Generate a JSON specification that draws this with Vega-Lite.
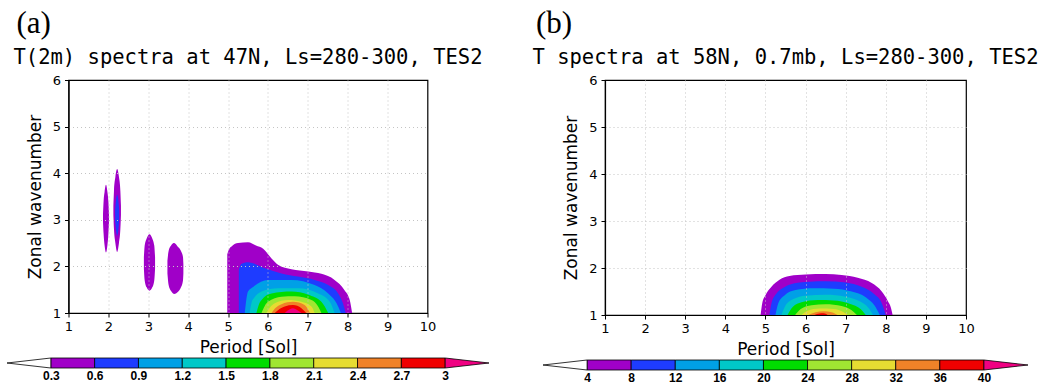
{
  "$schema": "https://vega.github.io/schema/vega-lite/v6.json",
  "background": "white",
  "padding": {"left": 5, "top": 7, "right": 0, "bottom": 0},
  "config": {
    "font": "DejaVu Sans",
    "view": {"stroke": "#000", "strokeWidth": 1.2},
    "title": {"color": "#000", "fontWeight": "normal"},
    "axis": {
      "labelFont": "DejaVu Sans", "labelFontSize": 13, "labelColor": "#000",
      "titleFont": "DejaVu Sans", "titleFontSize": 17, "titleFontWeight": "normal", "titleColor": "#000",
      "tickColor": "#000", "domainColor": "#000", "tickSize": 4, "domainWidth": 1.2,
      "gridColor": "#c4c4c4", "gridDash": [1, 3], "gridWidth": 1,
      "labelFlush": false, "labelOverlap": false, "labelBound": false
    },
    "axisX": {"gridOpacity": {"condition": {"test": "datum.value <= 1 || datum.value >= 10", "value": 0}, "value": 1}},
    "axisY": {"gridOpacity": {"condition": {"test": "datum.value <= 1 || datum.value >= 6", "value": 0}, "value": 1}}
  },
  "resolve": {"scale": {"color": "independent"}},
  "spacing": 40,
  "datasets": {
    "isoA": [
      {"shape": "p1", "level": 0.3, "x": 1.865, "lo": 2.95, "hi": 3.12},
      {"shape": "p1", "level": 0.3, "x": 1.88, "lo": 2.7, "hi": 3.4},
      {"shape": "p1", "level": 0.3, "x": 1.905, "lo": 2.45, "hi": 3.6},
      {"shape": "p1", "level": 0.3, "x": 1.94, "lo": 2.3, "hi": 3.75},
      {"shape": "p1", "level": 0.3, "x": 1.975, "lo": 2.45, "hi": 3.6},
      {"shape": "p1", "level": 0.3, "x": 2.0, "lo": 2.7, "hi": 3.4},
      {"shape": "p1", "level": 0.3, "x": 2.015, "lo": 2.95, "hi": 3.12},

      {"shape": "p2", "level": 0.3, "x": 2.125, "lo": 3.1, "hi": 3.3},
      {"shape": "p2", "level": 0.3, "x": 2.14, "lo": 2.8, "hi": 3.62},
      {"shape": "p2", "level": 0.3, "x": 2.175, "lo": 2.5, "hi": 3.92},
      {"shape": "p2", "level": 0.3, "x": 2.22, "lo": 2.31, "hi": 4.09},
      {"shape": "p2", "level": 0.3, "x": 2.265, "lo": 2.5, "hi": 3.92},
      {"shape": "p2", "level": 0.3, "x": 2.3, "lo": 2.8, "hi": 3.62},
      {"shape": "p2", "level": 0.3, "x": 2.315, "lo": 3.1, "hi": 3.3},

      {"shape": "p3", "level": 0.3, "x": 2.89, "lo": 1.95, "hi": 2.2},
      {"shape": "p3", "level": 0.3, "x": 2.91, "lo": 1.7, "hi": 2.45},
      {"shape": "p3", "level": 0.3, "x": 2.96, "lo": 1.55, "hi": 2.6},
      {"shape": "p3", "level": 0.3, "x": 3.03, "lo": 1.48, "hi": 2.69},
      {"shape": "p3", "level": 0.3, "x": 3.1, "lo": 1.55, "hi": 2.6},
      {"shape": "p3", "level": 0.3, "x": 3.15, "lo": 1.7, "hi": 2.45},
      {"shape": "p3", "level": 0.3, "x": 3.17, "lo": 1.95, "hi": 2.2},

      {"shape": "p4", "level": 0.3, "x": 3.48, "lo": 1.85, "hi": 2.12},
      {"shape": "p4", "level": 0.3, "x": 3.51, "lo": 1.6, "hi": 2.33},
      {"shape": "p4", "level": 0.3, "x": 3.58, "lo": 1.46, "hi": 2.46},
      {"shape": "p4", "level": 0.3, "x": 3.65, "lo": 1.41, "hi": 2.5},
      {"shape": "p4", "level": 0.3, "x": 3.74, "lo": 1.45, "hi": 2.42},
      {"shape": "p4", "level": 0.3, "x": 3.82, "lo": 1.55, "hi": 2.33},
      {"shape": "p4", "level": 0.3, "x": 3.87, "lo": 1.7, "hi": 2.2},
      {"shape": "p4", "level": 0.3, "x": 3.88, "lo": 1.85, "hi": 2.05},

      {"shape": "p5", "level": 0.3, "x": 4.98, "lo": 1, "hi": 2.26},
      {"shape": "p5", "level": 0.3, "x": 5.02, "lo": 1, "hi": 2.36},
      {"shape": "p5", "level": 0.3, "x": 5.1, "lo": 1, "hi": 2.44},
      {"shape": "p5", "level": 0.3, "x": 5.25, "lo": 1, "hi": 2.5},
      {"shape": "p5", "level": 0.3, "x": 5.5, "lo": 1, "hi": 2.52},
      {"shape": "p5", "level": 0.3, "x": 5.7, "lo": 1, "hi": 2.45},
      {"shape": "p5", "level": 0.3, "x": 5.88, "lo": 1, "hi": 2.38},
      {"shape": "p5", "level": 0.3, "x": 6.09, "lo": 1, "hi": 2.17},
      {"shape": "p5", "level": 0.3, "x": 6.26, "lo": 1, "hi": 2.03},
      {"shape": "p5", "level": 0.3, "x": 6.59, "lo": 1, "hi": 1.94},
      {"shape": "p5", "level": 0.3, "x": 7.01, "lo": 1, "hi": 1.89},
      {"shape": "p5", "level": 0.3, "x": 7.34, "lo": 1, "hi": 1.84},
      {"shape": "p5", "level": 0.3, "x": 7.67, "lo": 1, "hi": 1.71},
      {"shape": "p5", "level": 0.3, "x": 7.92, "lo": 1, "hi": 1.49},
      {"shape": "p5", "level": 0.3, "x": 8.05, "lo": 1, "hi": 1.28},
      {"shape": "p5", "level": 0.3, "x": 8.11, "lo": 1, "hi": 1.0},

      {"shape": "b1", "level": 0.6, "x": 2.17, "lo": 2.98, "hi": 3.22},
      {"shape": "b1", "level": 0.6, "x": 2.19, "lo": 2.78, "hi": 3.42},
      {"shape": "b1", "level": 0.6, "x": 2.22, "lo": 2.66, "hi": 3.54},
      {"shape": "b1", "level": 0.6, "x": 2.25, "lo": 2.78, "hi": 3.42},
      {"shape": "b1", "level": 0.6, "x": 2.27, "lo": 2.98, "hi": 3.22},

      {"shape": "b2", "level": 0.6, "x": 5.27, "lo": 1, "hi": 1.92},
      {"shape": "b2", "level": 0.6, "x": 5.33, "lo": 1, "hi": 2.05},
      {"shape": "b2", "level": 0.6, "x": 5.5, "lo": 1, "hi": 2.09},
      {"shape": "b2", "level": 0.6, "x": 5.92, "lo": 1, "hi": 1.96},
      {"shape": "b2", "level": 0.6, "x": 6.34, "lo": 1, "hi": 1.85},
      {"shape": "b2", "level": 0.6, "x": 7.17, "lo": 1, "hi": 1.71},
      {"shape": "b2", "level": 0.6, "x": 7.51, "lo": 1, "hi": 1.6},
      {"shape": "b2", "level": 0.6, "x": 7.76, "lo": 1, "hi": 1.42},
      {"shape": "b2", "level": 0.6, "x": 7.88, "lo": 1, "hi": 1.21},
      {"shape": "b2", "level": 0.6, "x": 7.95, "lo": 1, "hi": 1.0},

      {"shape": "c1", "level": 0.9, "x": 5.42, "lo": 1, "hi": 1.0},
      {"shape": "c1", "level": 0.9, "x": 5.46, "lo": 1, "hi": 1.3},
      {"shape": "c1", "level": 0.9, "x": 5.5, "lo": 1, "hi": 1.46},
      {"shape": "c1", "level": 0.9, "x": 5.63, "lo": 1, "hi": 1.56},
      {"shape": "c1", "level": 0.9, "x": 6.0, "lo": 1, "hi": 1.71},
      {"shape": "c1", "level": 0.9, "x": 6.59, "lo": 1, "hi": 1.71},
      {"shape": "c1", "level": 0.9, "x": 7.17, "lo": 1, "hi": 1.6},
      {"shape": "c1", "level": 0.9, "x": 7.51, "lo": 1, "hi": 1.42},
      {"shape": "c1", "level": 0.9, "x": 7.72, "lo": 1, "hi": 1.21},
      {"shape": "c1", "level": 0.9, "x": 7.83, "lo": 1, "hi": 1.0},

      {"shape": "d1", "level": 1.2, "x": 5.54, "lo": 1, "hi": 1.0},
      {"shape": "d1", "level": 1.2, "x": 5.6, "lo": 1, "hi": 1.25},
      {"shape": "d1", "level": 1.2, "x": 5.65, "lo": 1, "hi": 1.32},
      {"shape": "d1", "level": 1.2, "x": 5.84, "lo": 1, "hi": 1.46},
      {"shape": "d1", "level": 1.2, "x": 6.26, "lo": 1, "hi": 1.53},
      {"shape": "d1", "level": 1.2, "x": 6.76, "lo": 1, "hi": 1.53},
      {"shape": "d1", "level": 1.2, "x": 7.26, "lo": 1, "hi": 1.42},
      {"shape": "d1", "level": 1.2, "x": 7.55, "lo": 1, "hi": 1.24},
      {"shape": "d1", "level": 1.2, "x": 7.67, "lo": 1, "hi": 1.0},

      {"shape": "e1", "level": 1.5, "x": 5.71, "lo": 1, "hi": 1.0},
      {"shape": "e1", "level": 1.5, "x": 5.78, "lo": 1, "hi": 1.2},
      {"shape": "e1", "level": 1.5, "x": 5.84, "lo": 1, "hi": 1.28},
      {"shape": "e1", "level": 1.5, "x": 6.09, "lo": 1, "hi": 1.42},
      {"shape": "e1", "level": 1.5, "x": 6.59, "lo": 1, "hi": 1.46},
      {"shape": "e1", "level": 1.5, "x": 7.01, "lo": 1, "hi": 1.39},
      {"shape": "e1", "level": 1.5, "x": 7.34, "lo": 1, "hi": 1.24},
      {"shape": "e1", "level": 1.5, "x": 7.51, "lo": 1, "hi": 1.0},

      {"shape": "f1", "level": 1.8, "x": 5.84, "lo": 1, "hi": 1.0},
      {"shape": "f1", "level": 1.8, "x": 5.92, "lo": 1, "hi": 1.15},
      {"shape": "f1", "level": 1.8, "x": 6.0, "lo": 1, "hi": 1.24},
      {"shape": "f1", "level": 1.8, "x": 6.34, "lo": 1, "hi": 1.35},
      {"shape": "f1", "level": 1.8, "x": 6.67, "lo": 1, "hi": 1.36},
      {"shape": "f1", "level": 1.8, "x": 7.09, "lo": 1, "hi": 1.28},
      {"shape": "f1", "level": 1.8, "x": 7.25, "lo": 1, "hi": 1.15},
      {"shape": "f1", "level": 1.8, "x": 7.34, "lo": 1, "hi": 1.0},

      {"shape": "g1", "level": 2.1, "x": 5.96, "lo": 1, "hi": 1.0},
      {"shape": "g1", "level": 2.1, "x": 6.05, "lo": 1, "hi": 1.12},
      {"shape": "g1", "level": 2.1, "x": 6.17, "lo": 1, "hi": 1.21},
      {"shape": "g1", "level": 2.1, "x": 6.51, "lo": 1, "hi": 1.28},
      {"shape": "g1", "level": 2.1, "x": 6.84, "lo": 1, "hi": 1.24},
      {"shape": "g1", "level": 2.1, "x": 7.09, "lo": 1, "hi": 1.14},
      {"shape": "g1", "level": 2.1, "x": 7.17, "lo": 1, "hi": 1.0},

      {"shape": "h1", "level": 2.4, "x": 6.09, "lo": 1, "hi": 1.0},
      {"shape": "h1", "level": 2.4, "x": 6.18, "lo": 1, "hi": 1.1},
      {"shape": "h1", "level": 2.4, "x": 6.34, "lo": 1, "hi": 1.19},
      {"shape": "h1", "level": 2.4, "x": 6.63, "lo": 1, "hi": 1.24},
      {"shape": "h1", "level": 2.4, "x": 6.92, "lo": 1, "hi": 1.17},
      {"shape": "h1", "level": 2.4, "x": 7.05, "lo": 1, "hi": 1.0},

      {"shape": "i1", "level": 2.7, "x": 6.17, "lo": 1, "hi": 1.0},
      {"shape": "i1", "level": 2.7, "x": 6.3, "lo": 1, "hi": 1.09},
      {"shape": "i1", "level": 2.7, "x": 6.42, "lo": 1, "hi": 1.14},
      {"shape": "i1", "level": 2.7, "x": 6.63, "lo": 1, "hi": 1.17},
      {"shape": "i1", "level": 2.7, "x": 6.84, "lo": 1, "hi": 1.1},
      {"shape": "i1", "level": 2.7, "x": 6.96, "lo": 1, "hi": 1.0},

      {"shape": "j1", "level": 3.0, "x": 6.42, "lo": 1, "hi": 1.0},
      {"shape": "j1", "level": 3.0, "x": 6.55, "lo": 1, "hi": 1.08},
      {"shape": "j1", "level": 3.0, "x": 6.63, "lo": 1, "hi": 1.1},
      {"shape": "j1", "level": 3.0, "x": 6.72, "lo": 1, "hi": 1.07},
      {"shape": "j1", "level": 3.0, "x": 6.84, "lo": 1, "hi": 1.0}
    ],
    "isoB": [
      {"shape": "p1", "level": 4, "x": 4.88, "lo": 1, "hi": 1.0},
      {"shape": "p1", "level": 4, "x": 4.92, "lo": 1, "hi": 1.25},
      {"shape": "p1", "level": 4, "x": 5.0, "lo": 1, "hi": 1.42},
      {"shape": "p1", "level": 4, "x": 5.15, "lo": 1, "hi": 1.6},
      {"shape": "p1", "level": 4, "x": 5.35, "lo": 1, "hi": 1.75},
      {"shape": "p1", "level": 4, "x": 5.6, "lo": 1, "hi": 1.83},
      {"shape": "p1", "level": 4, "x": 6.0, "lo": 1, "hi": 1.86},
      {"shape": "p1", "level": 4, "x": 6.5, "lo": 1, "hi": 1.87},
      {"shape": "p1", "level": 4, "x": 6.9, "lo": 1, "hi": 1.85},
      {"shape": "p1", "level": 4, "x": 7.3, "lo": 1, "hi": 1.79},
      {"shape": "p1", "level": 4, "x": 7.65, "lo": 1, "hi": 1.68},
      {"shape": "p1", "level": 4, "x": 7.9, "lo": 1, "hi": 1.5},
      {"shape": "p1", "level": 4, "x": 8.05, "lo": 1, "hi": 1.3},
      {"shape": "p1", "level": 4, "x": 8.13, "lo": 1, "hi": 1.15},
      {"shape": "p1", "level": 4, "x": 8.17, "lo": 1, "hi": 1.0},

      {"shape": "b1", "level": 8, "x": 5.1, "lo": 1, "hi": 1.0},
      {"shape": "b1", "level": 8, "x": 5.15, "lo": 1, "hi": 1.25},
      {"shape": "b1", "level": 8, "x": 5.27, "lo": 1, "hi": 1.45},
      {"shape": "b1", "level": 8, "x": 5.45, "lo": 1, "hi": 1.58},
      {"shape": "b1", "level": 8, "x": 5.7, "lo": 1, "hi": 1.67},
      {"shape": "b1", "level": 8, "x": 6.1, "lo": 1, "hi": 1.71},
      {"shape": "b1", "level": 8, "x": 6.5, "lo": 1, "hi": 1.72},
      {"shape": "b1", "level": 8, "x": 7.0, "lo": 1, "hi": 1.69},
      {"shape": "b1", "level": 8, "x": 7.4, "lo": 1, "hi": 1.6},
      {"shape": "b1", "level": 8, "x": 7.7, "lo": 1, "hi": 1.45},
      {"shape": "b1", "level": 8, "x": 7.9, "lo": 1, "hi": 1.25},
      {"shape": "b1", "level": 8, "x": 8.0, "lo": 1, "hi": 1.0},

      {"shape": "c1", "level": 12, "x": 5.25, "lo": 1, "hi": 1.0},
      {"shape": "c1", "level": 12, "x": 5.32, "lo": 1, "hi": 1.25},
      {"shape": "c1", "level": 12, "x": 5.48, "lo": 1, "hi": 1.42},
      {"shape": "c1", "level": 12, "x": 5.75, "lo": 1, "hi": 1.53},
      {"shape": "c1", "level": 12, "x": 6.2, "lo": 1, "hi": 1.57},
      {"shape": "c1", "level": 12, "x": 6.7, "lo": 1, "hi": 1.56},
      {"shape": "c1", "level": 12, "x": 7.15, "lo": 1, "hi": 1.5},
      {"shape": "c1", "level": 12, "x": 7.5, "lo": 1, "hi": 1.38},
      {"shape": "c1", "level": 12, "x": 7.72, "lo": 1, "hi": 1.2},
      {"shape": "c1", "level": 12, "x": 7.85, "lo": 1, "hi": 1.0},

      {"shape": "d1", "level": 16, "x": 5.4, "lo": 1, "hi": 1.0},
      {"shape": "d1", "level": 16, "x": 5.5, "lo": 1, "hi": 1.2},
      {"shape": "d1", "level": 16, "x": 5.7, "lo": 1, "hi": 1.34},
      {"shape": "d1", "level": 16, "x": 6.0, "lo": 1, "hi": 1.41},
      {"shape": "d1", "level": 16, "x": 6.5, "lo": 1, "hi": 1.43},
      {"shape": "d1", "level": 16, "x": 7.0, "lo": 1, "hi": 1.39},
      {"shape": "d1", "level": 16, "x": 7.35, "lo": 1, "hi": 1.29},
      {"shape": "d1", "level": 16, "x": 7.58, "lo": 1, "hi": 1.14},
      {"shape": "d1", "level": 16, "x": 7.68, "lo": 1, "hi": 1.0},

      {"shape": "e1", "level": 20, "x": 5.55, "lo": 1, "hi": 1.0},
      {"shape": "e1", "level": 20, "x": 5.68, "lo": 1, "hi": 1.17},
      {"shape": "e1", "level": 20, "x": 5.9, "lo": 1, "hi": 1.27},
      {"shape": "e1", "level": 20, "x": 6.3, "lo": 1, "hi": 1.32},
      {"shape": "e1", "level": 20, "x": 6.7, "lo": 1, "hi": 1.31},
      {"shape": "e1", "level": 20, "x": 7.1, "lo": 1, "hi": 1.24},
      {"shape": "e1", "level": 20, "x": 7.38, "lo": 1, "hi": 1.12},
      {"shape": "e1", "level": 20, "x": 7.5, "lo": 1, "hi": 1.0},

      {"shape": "f1", "level": 24, "x": 5.74, "lo": 1, "hi": 1.0},
      {"shape": "f1", "level": 24, "x": 5.88, "lo": 1, "hi": 1.13},
      {"shape": "f1", "level": 24, "x": 6.15, "lo": 1, "hi": 1.21},
      {"shape": "f1", "level": 24, "x": 6.5, "lo": 1, "hi": 1.23},
      {"shape": "f1", "level": 24, "x": 6.9, "lo": 1, "hi": 1.19},
      {"shape": "f1", "level": 24, "x": 7.15, "lo": 1, "hi": 1.1},
      {"shape": "f1", "level": 24, "x": 7.28, "lo": 1, "hi": 1.0},

      {"shape": "g1", "level": 28, "x": 5.9, "lo": 1, "hi": 1.0},
      {"shape": "g1", "level": 28, "x": 6.05, "lo": 1, "hi": 1.09},
      {"shape": "g1", "level": 28, "x": 6.35, "lo": 1, "hi": 1.14},
      {"shape": "g1", "level": 28, "x": 6.7, "lo": 1, "hi": 1.13},
      {"shape": "g1", "level": 28, "x": 6.95, "lo": 1, "hi": 1.06},
      {"shape": "g1", "level": 28, "x": 7.05, "lo": 1, "hi": 1.0},

      {"shape": "h1", "level": 32, "x": 6.07, "lo": 1, "hi": 1.0},
      {"shape": "h1", "level": 32, "x": 6.25, "lo": 1, "hi": 1.06},
      {"shape": "h1", "level": 32, "x": 6.45, "lo": 1, "hi": 1.08},
      {"shape": "h1", "level": 32, "x": 6.65, "lo": 1, "hi": 1.06},
      {"shape": "h1", "level": 32, "x": 6.8, "lo": 1, "hi": 1.0},

      {"shape": "i1", "level": 36, "x": 6.22, "lo": 1, "hi": 1.0},
      {"shape": "i1", "level": 36, "x": 6.35, "lo": 1, "hi": 1.03},
      {"shape": "i1", "level": 36, "x": 6.45, "lo": 1, "hi": 1.035},
      {"shape": "i1", "level": 36, "x": 6.55, "lo": 1, "hi": 1.0}
    ],
    "barA": [
      {"lo": 0.3, "hi": 0.6}, {"lo": 0.6, "hi": 0.9}, {"lo": 0.9, "hi": 1.2},
      {"lo": 1.2, "hi": 1.5}, {"lo": 1.5, "hi": 1.8}, {"lo": 1.8, "hi": 2.1},
      {"lo": 2.1, "hi": 2.4}, {"lo": 2.4, "hi": 2.7}, {"lo": 2.7, "hi": 3.0}
    ],
    "capA": [
      {"end": "low", "x": 0, "lo": 0.5, "hi": 0.5, "level": 0},
      {"end": "low", "x": 0.3, "lo": 0, "hi": 1, "level": 0},
      {"end": "high", "x": 3.0, "lo": 0, "hi": 1, "level": 3.0},
      {"end": "high", "x": 3.3, "lo": 0.5, "hi": 0.5, "level": 3.0}
    ],
    "barB": [
      {"lo": 4, "hi": 8}, {"lo": 8, "hi": 12}, {"lo": 12, "hi": 16},
      {"lo": 16, "hi": 20}, {"lo": 20, "hi": 24}, {"lo": 24, "hi": 28},
      {"lo": 28, "hi": 32}, {"lo": 32, "hi": 36}, {"lo": 36, "hi": 40}
    ],
    "capB": [
      {"end": "low", "x": 0, "lo": 0.5, "hi": 0.5, "level": 0},
      {"end": "low", "x": 4, "lo": 0, "hi": 1, "level": 0},
      {"end": "high", "x": 40, "lo": 0, "hi": 1, "level": 40},
      {"end": "high", "x": 44, "lo": 0.5, "hi": 0.5, "level": 40}
    ]
  },
  "hconcat": [
    {
      "title": {"text": "(a)", "anchor": "start", "font": "Liberation Serif", "fontSize": 31, "fontWeight": "normal", "dx": 11, "offset": 7},
      "vconcat": [
        {
          "width": 359, "height": 233,
          "title": {"text": "T(2m) spectra at 47N, Ls=280-300, TES2", "font": "DejaVu Sans Mono", "fontSize": 20.5, "anchor": "middle", "offset": 6},
          "data": {"name": "isoA"},
          "mark": {"type": "area", "interpolate": "monotone"},
          "encoding": {
            "x": {"field": "x", "type": "quantitative", "scale": {"domain": [1, 10], "nice": false, "zero": false},
                  "axis": {"values": [1, 2, 3, 4, 5, 6, 7, 8, 9, 10], "format": "d", "title": "Period [Sol]", "grid": true, "labelPadding": 3, "titlePadding": 6, "zindex": 1}},
            "y": {"field": "lo", "type": "quantitative", "stack": null, "scale": {"domain": [1, 6], "nice": false, "zero": false},
                  "axis": {"values": [1, 2, 3, 4, 5, 6], "format": "d", "title": "Zonal wavenumber", "grid": true, "labelPadding": 4, "titlePadding": 8, "zindex": 1}},
            "y2": {"field": "hi"},
            "detail": {"field": "shape"},
            "color": {"field": "level", "type": "quantitative", "legend": null,
                      "scale": {"type": "threshold", "domain": [0.3, 0.6, 0.9, 1.2, 1.5, 1.8, 2.1, 2.4, 2.7, 3.0],
                                "range": ["#ffffff", "#a000c8", "#1e3cff", "#00a0e6", "#00c8c8", "#00dc00", "#a0e632", "#e6dc32", "#f08228", "#f00000", "#f00082"]}}
          }
        },
        {
          "width": 482, "height": 10,
          "view": {"stroke": null},
          "layer": [
            {
              "data": {"name": "barA"},
              "mark": {"type": "rect", "stroke": "#000", "strokeWidth": 0.8},
              "encoding": {
                "x": {"field": "lo", "type": "quantitative", "scale": {"domain": [0, 3.3], "nice": false, "zero": false},
                      "axis": {"values": [0.3, 0.6, 0.9, 1.2, 1.5, 1.8, 2.1, 2.4, 2.7, 3.0], "format": "~g", "title": null, "domain": false, "ticks": false, "grid": false, "labelPadding": 2, "labelFont": "Liberation Sans", "labelFontSize": 12, "labelFontWeight": "bold"}},
                "x2": {"field": "hi"},
                "y": {"datum": 0, "type": "quantitative", "scale": {"domain": [0, 1], "nice": false}, "axis": null},
                "y2": {"datum": 1},
                "color": {"field": "lo", "type": "quantitative", "legend": null,
                          "scale": {"type": "threshold", "domain": [0.3, 0.6, 0.9, 1.2, 1.5, 1.8, 2.1, 2.4, 2.7, 3.0],
                                    "range": ["#ffffff", "#a000c8", "#1e3cff", "#00a0e6", "#00c8c8", "#00dc00", "#a0e632", "#e6dc32", "#f08228", "#f00000", "#f00082"]}}
              }
            },
            {
              "data": {"name": "capA"},
              "mark": {"type": "area", "stroke": "#000", "strokeWidth": 0.8, "interpolate": "linear"},
              "encoding": {
                "x": {"field": "x", "type": "quantitative"},
                "y": {"field": "lo", "type": "quantitative", "stack": null},
                "y2": {"field": "hi"},
                "detail": {"field": "end"},
                "color": {"field": "level", "type": "quantitative", "legend": null,
                          "scale": {"type": "threshold", "domain": [0.3, 0.6, 0.9, 1.2, 1.5, 1.8, 2.1, 2.4, 2.7, 3.0],
                                    "range": ["#ffffff", "#a000c8", "#1e3cff", "#00a0e6", "#00c8c8", "#00dc00", "#a0e632", "#e6dc32", "#f08228", "#f00000", "#f00082"]}}
              }
            }
          ]
        }
      ],
      "spacing": 45,
      "bounds": "flush",
      "center": true
    },
    {
      "title": {"text": "(b)", "anchor": "start", "font": "Liberation Serif", "fontSize": 31, "fontWeight": "normal", "dx": 4, "offset": 7},
      "vconcat": [
        {
          "width": 361, "height": 235,
          "title": {"text": "T spectra at 58N, 0.7mb, Ls=280-300, TES2", "font": "DejaVu Sans Mono", "fontSize": 20.5, "anchor": "middle", "offset": 6},
          "data": {"name": "isoB"},
          "mark": {"type": "area", "interpolate": "monotone"},
          "encoding": {
            "x": {"field": "x", "type": "quantitative", "scale": {"domain": [1, 10], "nice": false, "zero": false},
                  "axis": {"values": [1, 2, 3, 4, 5, 6, 7, 8, 9, 10], "format": "d", "title": "Period [Sol]", "grid": true, "labelPadding": 3, "titlePadding": 6, "zindex": 1}},
            "y": {"field": "lo", "type": "quantitative", "stack": null, "scale": {"domain": [1, 6], "nice": false, "zero": false},
                  "axis": {"values": [1, 2, 3, 4, 5, 6], "format": "d", "title": "Zonal wavenumber", "grid": true, "labelPadding": 4, "titlePadding": 8, "zindex": 1}},
            "y2": {"field": "hi"},
            "detail": {"field": "shape"},
            "color": {"field": "level", "type": "quantitative", "legend": null,
                      "scale": {"type": "threshold", "domain": [4, 8, 12, 16, 20, 24, 28, 32, 36, 40],
                                "range": ["#ffffff", "#a000c8", "#1e3cff", "#00a0e6", "#00c8c8", "#00dc00", "#a0e632", "#e6dc32", "#f08228", "#f00000", "#f00082"]}}
          }
        },
        {
          "width": 485, "height": 10,
          "view": {"stroke": null},
          "layer": [
            {
              "data": {"name": "barB"},
              "mark": {"type": "rect", "stroke": "#000", "strokeWidth": 0.8},
              "encoding": {
                "x": {"field": "lo", "type": "quantitative", "scale": {"domain": [0, 44], "nice": false, "zero": false},
                      "axis": {"values": [4, 8, 12, 16, 20, 24, 28, 32, 36, 40], "format": "~g", "title": null, "domain": false, "ticks": false, "grid": false, "labelPadding": 2, "labelFont": "Liberation Sans", "labelFontSize": 12, "labelFontWeight": "bold"}},
                "x2": {"field": "hi"},
                "y": {"datum": 0, "type": "quantitative", "scale": {"domain": [0, 1], "nice": false}, "axis": null},
                "y2": {"datum": 1},
                "color": {"field": "lo", "type": "quantitative", "legend": null,
                          "scale": {"type": "threshold", "domain": [4, 8, 12, 16, 20, 24, 28, 32, 36, 40],
                                    "range": ["#ffffff", "#a000c8", "#1e3cff", "#00a0e6", "#00c8c8", "#00dc00", "#a0e632", "#e6dc32", "#f08228", "#f00000", "#f00082"]}}
              }
            },
            {
              "data": {"name": "capB"},
              "mark": {"type": "area", "stroke": "#000", "strokeWidth": 0.8, "interpolate": "linear"},
              "encoding": {
                "x": {"field": "x", "type": "quantitative"},
                "y": {"field": "lo", "type": "quantitative", "stack": null},
                "y2": {"field": "hi"},
                "detail": {"field": "end"},
                "color": {"field": "level", "type": "quantitative", "legend": null,
                          "scale": {"type": "threshold", "domain": [4, 8, 12, 16, 20, 24, 28, 32, 36, 40],
                                    "range": ["#ffffff", "#a000c8", "#1e3cff", "#00a0e6", "#00c8c8", "#00dc00", "#a0e632", "#e6dc32", "#f08228", "#f00000", "#f00082"]}}
              }
            }
          ]
        }
      ],
      "spacing": 45,
      "bounds": "flush",
      "center": true
    }
  ]
}
